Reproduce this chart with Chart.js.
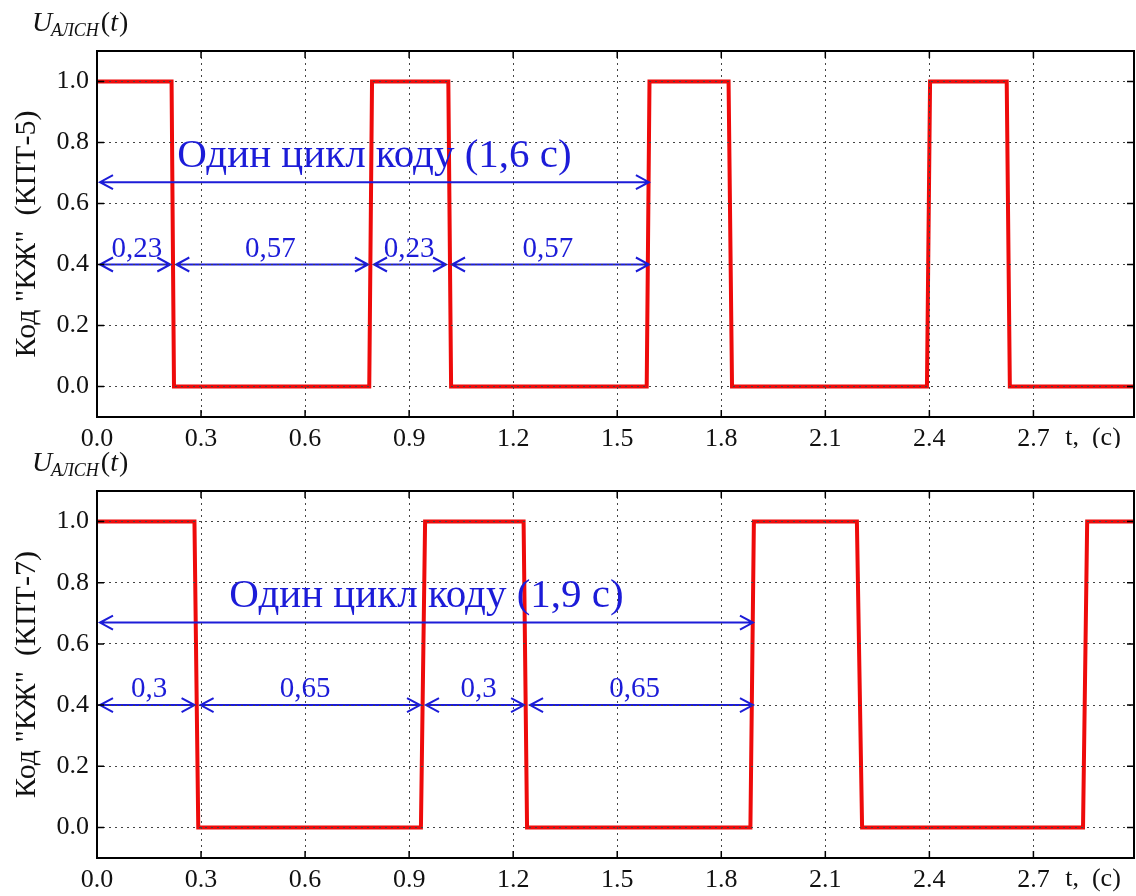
<!DOCTYPE html>
<html>
<head>
<meta charset="utf-8">
<script src="https://cdn.jsdelivr.net/npm/chart.js@4/dist/chart.umd.min.js"></script>
<style>
  html, body { margin: 0; padding: 0; background: #fff; }
  canvas { display: block; }
</style>
</head>
<body>
<canvas id="kpt5Chart" width="1136" height="448"></canvas>
<canvas id="kpt7Chart" width="1136" height="448"></canvas>
<script>
// axis ticks
const xTicks = [0.0, 0.3, 0.6, 0.9, 1.2, 1.5, 1.8, 2.1, 2.4, 2.7];
const yTicks = [0.0, 0.2, 0.4, 0.6, 0.8, 1.0];

// KPT-5 code signal (corner points)
const kpt5Time = [0, 0.215, 0.222, 0.785, 0.793, 1.013, 1.021, 1.585, 1.593, 1.821, 1.831, 2.393, 2.402, 2.623, 2.632, 2.99];
const kpt5Code = [1, 1, 0, 0, 1, 1, 0, 0, 1, 1, 0, 0, 1, 1, 0, 0];
// KPT-7 code signal
const kpt7Time = [0, 0.281, 0.292, 0.934, 0.946, 1.230, 1.240, 1.884, 1.894, 2.191, 2.206, 2.843, 2.855, 2.99];
const kpt7Code = [1, 1, 0, 0, 1, 1, 0, 0, 1, 1, 0, 0, 1, 1];

// annotations
const kpt5Marks = [0, 0.22, 0.79, 1.015, 1.6];
const kpt5SpanText = ['0,23', '0,57', '0,23', '0,57'];
const kpt5SpanTextX = [0.115, 0.5, 0.9, 1.3];
const kpt5Cycle = [0, 1.6];
const kpt5CycleText = 'Один цикл коду (1,6 с)';
const kpt5CycleTextX = 0.8;

const kpt7Marks = [0, 0.29, 0.94, 1.24, 1.9];
const kpt7SpanText = ['0,3', '0,65', '0,3', '0,65'];
const kpt7SpanTextX = [0.15, 0.6, 1.1, 1.55];
const kpt7Cycle = [0, 1.9];
const kpt7CycleText = 'Один цикл коду (1,9 с)';
const kpt7CycleTextX = 0.95;

const cycleArrowY = 0.67;
const spanArrowY = 0.4;
const cycleTextY = 0.72;
const spanTextY = 0.425;

const SERIF = "'Liberation Serif', 'Times New Roman', serif";
const BLUE = '#1c1cd8';

function arrow(ctx, x1, x2, yp) {
  const s = 3, hl = 13, hw = 7;
  const a = x1 + s, b = x2 - s;
  ctx.beginPath();
  ctx.moveTo(a, yp); ctx.lineTo(b, yp);
  ctx.moveTo(a + hl, yp - hw); ctx.lineTo(a, yp); ctx.lineTo(a + hl, yp + hw);
  ctx.moveTo(b - hl, yp - hw); ctx.lineTo(b, yp); ctx.lineTo(b - hl, yp + hw);
  ctx.stroke();
}

const decor = {
  id: 'decor',
  afterDraw(chart, args, o) {
    const { ctx, chartArea: a, scales: { x, y } } = chart;
    ctx.save();

    // arrows
    ctx.strokeStyle = BLUE;
    ctx.lineWidth = 2;
    arrow(ctx, x.getPixelForValue(o.cycle[0]), x.getPixelForValue(o.cycle[1]), y.getPixelForValue(cycleArrowY));
    for (let i = 0; i < o.marks.length - 1; i++) {
      arrow(ctx, x.getPixelForValue(o.marks[i]), x.getPixelForValue(o.marks[i + 1]), y.getPixelForValue(spanArrowY));
    }

    // grid sits on top of the curves, like the original
    x.drawGrid(a);
    y.drawGrid(a);

    // frame with inward ticks on all sides
    ctx.strokeStyle = '#000';
    ctx.setLineDash([]);
    ctx.lineWidth = 1.5;
    ctx.beginPath();
    xTicks.forEach(t => {
      const px = x.getPixelForValue(t);
      ctx.moveTo(px, a.bottom); ctx.lineTo(px, a.bottom - 7);
      ctx.moveTo(px, a.top); ctx.lineTo(px, a.top + 7);
    });
    yTicks.forEach(v => {
      const py = y.getPixelForValue(v);
      ctx.moveTo(a.left, py); ctx.lineTo(a.left + 7, py);
      ctx.moveTo(a.right, py); ctx.lineTo(a.right - 7, py);
    });
    ctx.stroke();
    ctx.lineWidth = 2;
    ctx.strokeRect(a.left, a.top, a.right - a.left, a.bottom - a.top);

    // labels
    ctx.fillStyle = BLUE;
    ctx.textAlign = 'center';
    ctx.textBaseline = 'alphabetic';
    ctx.font = '29px ' + SERIF;
    o.spanText.forEach((s, i) => {
      ctx.fillText(s, x.getPixelForValue(o.spanTextX[i]), y.getPixelForValue(spanTextY));
    });
    ctx.font = '41px ' + SERIF;
    ctx.fillText(o.cycleText, x.getPixelForValue(o.cycleTextX), y.getPixelForValue(cycleTextY));

    // time axis label
    ctx.fillStyle = '#111';
    ctx.font = '26px ' + SERIF;
    ctx.fillText('t,  (с)', 1093, a.bottom + 28);

    // U_АЛСН(t)
    let cx = 32;
    const by = a.top - 20;
    ctx.textAlign = 'left';
    ctx.font = 'italic 28px ' + SERIF;
    ctx.fillText('U', cx, by);
    cx += 19;
    ctx.font = 'italic 18px ' + SERIF;
    ctx.fillText('АЛСН', cx, by + 5);
    cx += ctx.measureText('АЛСН').width + 2;
    ctx.font = '28px ' + SERIF;
    ctx.fillText('(', cx, by);
    cx += ctx.measureText('(').width;
    ctx.font = 'italic 28px ' + SERIF;
    ctx.fillText('t', cx, by);
    cx += ctx.measureText('t').width + 1;
    ctx.font = '28px ' + SERIF;
    ctx.fillText(')', cx, by);

    ctx.restore();
  }
};

function makeChart(id, times, codes, yTitle, topPad, axisHeight, deco) {
  const points = times.map((t, i) => ({ x: t, y: codes[i] }));
  const tickFont = { family: SERIF, size: 26 };
  return new Chart(document.getElementById(id), {
    type: 'line',
    data: {
      datasets: [{
        data: points,
        borderColor: '#ee0a0a',
        borderWidth: 4,
        pointRadius: 0,
        tension: 0,
        fill: false
      }]
    },
    options: {
      responsive: false,
      animation: false,
      layout: { padding: { top: topPad, right: 2, left: 0, bottom: 0 } },
      plugins: { legend: { display: false }, tooltip: { enabled: false }, decor: deco },
      scales: {
        x: {
          type: 'linear',
          min: 0,
          max: 2.99,
          afterBuildTicks: s => { s.ticks = xTicks.map(v => ({ value: v })); },
          afterFit: s => { s.height = axisHeight; },
          ticks: {
            padding: 7,
            color: '#111',
            font: tickFont,
            callback: v => Number(v).toFixed(1)
          },
          grid: { color: '#444', lineWidth: 1, drawTicks: false },
          border: { display: false, dash: [2, 4] }
        },
        y: {
          min: -0.1,
          max: 1.1,
          afterBuildTicks: s => { s.ticks = yTicks.map(v => ({ value: v })); },
          afterFit: s => { s.width = 97; },
          ticks: {
            padding: 8,
            color: '#111',
            font: tickFont,
            callback: v => Number(v).toFixed(1)
          },
          grid: { color: '#444', lineWidth: 1, drawTicks: false },
          border: { display: false, dash: [2, 4] },
          title: {
            display: true,
            text: yTitle,
            color: '#111',
            font: { family: SERIF, size: 30 },
            padding: { top: 9, bottom: 0 }
          }
        }
      }
    },
    plugins: [decor]
  });
}

makeChart('kpt5Chart', kpt5Time, kpt5Code, 'Код "КЖ"  (КПТ-5)', 51, 31, {
  marks: kpt5Marks, spanText: kpt5SpanText, spanTextX: kpt5SpanTextX,
  cycle: kpt5Cycle, cycleText: kpt5CycleText, cycleTextX: kpt5CycleTextX
});
makeChart('kpt7Chart', kpt7Time, kpt7Code, 'Код "КЖ"  (КПТ-7)', 43, 38, {
  marks: kpt7Marks, spanText: kpt7SpanText, spanTextX: kpt7SpanTextX,
  cycle: kpt7Cycle, cycleText: kpt7CycleText, cycleTextX: kpt7CycleTextX
});
</script>
</body>
</html>
